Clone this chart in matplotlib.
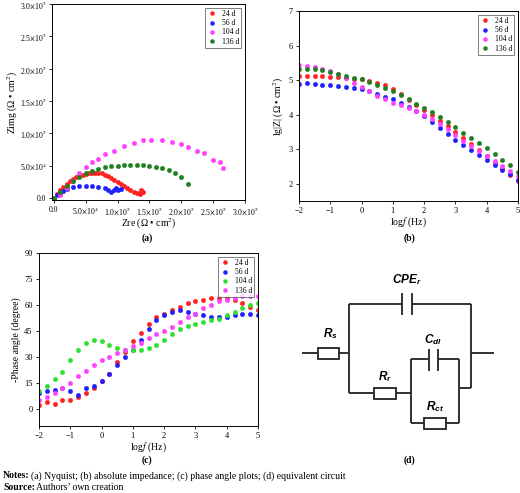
import matplotlib
matplotlib.use("Agg")
import matplotlib.pyplot as plt
import numpy as np

W, H = 520, 493
plt.rcParams['font.family'] = ['Liberation Serif', 'DejaVu Serif']
plt.rcParams['mathtext.fontset'] = 'stix'

labels_ab = ['24 d', '56 d', '104 d', '136 d']
cols_ab = ['#ff2020', '#2020ff', '#ff40ff', '#208020']
labels_c = ['24 d', '56 d', '104 d', '136 d']
cols_c = ['#ff2020', '#2020ff', '#30e030', '#ff40ff']

# Nyquist (units of 1e4 Ohm cm2)
zre_24 = [0,0.5,1,1.5,2,2.5,3,3.5,4,4.5,5,5.5,6,6.5,7,7.5,8,8.5,9,9.5,10,10.5,11,11.5,12,12.5,13,13.5,13.8,13.6,14]
zim_24 = [0,0.6,1.2,1.7,2.2,2.6,2.9,3.2,3.4,3.6,3.75,3.85,3.9,3.9,3.85,3.8,3.6,3.4,3.1,2.8,2.5,2.2,1.9,1.6,1.3,1.0,0.8,0.6,1.0,1.3,0.9]
zre_56 = [0,0.5,1,1.5,2,3,4,5,6,7,8,8.5,9,9.5,9.8,10,10.5]
zim_56 = [0,0.4,0.8,1.1,1.4,1.7,1.85,1.9,1.85,1.7,1.5,1.2,1.0,1.2,1.5,1.3,1.4]
zre_104 = [0,1,2,3,4,5,6,7,8,9.5,11,12.5,14,15.2,17,18.5,20,21,22.5,23.5,25,26,26.5]
zim_104 = [0,0.5,1.5,2.7,3.8,4.8,5.5,6.1,6.8,7.3,8.0,8.5,8.9,9.0,9.0,8.6,8.3,7.9,7.2,7.0,5.9,5.6,4.6]
zre_136 = [0,1,2,3,4,5,6,7,8,9,10,11,12,13,14,15,16,17,18,19,20,21]
zim_136 = [0,1.0,1.9,2.7,3.3,3.8,4.2,4.5,4.75,4.9,5.0,5.05,5.1,5.15,5.1,5.0,4.85,4.6,4.3,3.8,3.2,2.2]

logf = [-2,-1.75,-1.5,-1.25,-1,-0.75,-0.5,-0.25,0,0.25,0.5,0.75,1,1.25,1.5,1.75,2,2.25,2.5,2.75,3,3.25,3.5,3.75,4,4.25,4.5,4.75,5]
lgz_24 = [5.12,5.13,5.12,5.11,5.1,5.08,5.05,5.04,5.03,4.98,4.93,4.85,4.73,4.6,4.43,4.27,4.12,3.98,3.83,3.68,3.5,3.33,3.15,2.98,2.8,2.6,2.43,2.25,2.08]
lgz_56 = [4.88,4.93,4.9,4.86,4.87,4.84,4.8,4.78,4.74,4.68,4.6,4.52,4.45,4.35,4.22,4.1,3.95,3.78,3.6,3.43,3.27,3.12,2.97,2.83,2.7,2.55,2.41,2.27,2.12]
lgz_104 = [5.43,5.4,5.37,5.32,5.26,5.17,5.05,4.93,4.8,4.68,4.55,4.45,4.35,4.27,4.18,4.1,4.0,3.88,3.73,3.57,3.4,3.25,3.1,2.95,2.8,2.65,2.5,2.36,2.22]
lgz_136 = [5.33,5.32,5.31,5.28,5.24,5.19,5.13,5.07,5.02,4.95,4.87,4.78,4.68,4.57,4.45,4.32,4.2,4.07,3.93,3.78,3.63,3.48,3.32,3.17,3.02,2.86,2.7,2.53,2.35]

ph_24 = [2,4,3,5,5,7,9,12,16,20,27,33,39,44,49,53,55,57,59,61,62,63,64,64,64,63,61,59,57]
ph_56 = [9,10,11,12,10,8,12,13,16,20,25,30,34,40,46,51,54,56,57,56,55,54,53,53,53,54,55,55,54]
ph_104 = [10,13,17,21,28,34,38,40,39,37,35,34,34,34,35,37,40,43,46,48,49,50,51,52,54,56,58,60,61]
ph_136 = [5,7,9,12,15,19,22,25,28,30,32,34,36,38,41,43,45,47,50,53,55,58,60,62,63,64,65,65,65]

fig = plt.figure(figsize=(W/100, H/100), dpi=100)

def axpix(l, t, r, b):
    return fig.add_axes([l/W, 1-b/H, (r-l)/W, (b-t)/H])

def style(ax):
    ax.tick_params(labelsize=6, length=2.5, width=0.6, pad=2)
    for s in ax.spines.values():
        s.set_linewidth(0.7)

def sc(ax, x, y, c, lab):
    ax.plot(x, y, 'o', ms=3.2, color=c, mec=c, mew=0.3, label=lab)

def leg(ax):
    l = ax.legend(loc='upper right', fontsize=5.5, frameon=True, fancybox=False,
                  edgecolor='#444', handletextpad=0.6, borderpad=0.3, labelspacing=0.15,
                  markerscale=0.9, handlelength=1.2, borderaxespad=0.5)
    l.get_frame().set_linewidth(0.6)

# (a)
ax = axpix(52, 4, 245, 200)
for x, y, c, lab in zip([zre_24, zre_56, zre_104, zre_136], [zim_24, zim_56, zim_104, zim_136], cols_ab, labels_ab):
    sc(ax, x, y, c, lab)
ax.set_xlim(-0.3, 30); ax.set_ylim(-0.3, 30)
tl = ['0.0', r'5.0$\times$10$^4$', r'1.0$\times$10$^5$', r'1.5$\times$10$^5$', r'2.0$\times$10$^5$', r'2.5$\times$10$^5$', r'3.0$\times$10$^5$']
ax.set_xticks([0, 5, 10, 15, 20, 25, 30]); ax.set_xticklabels(tl)
ax.set_yticks([0, 5, 10, 15, 20, 25, 30]); ax.set_yticklabels(tl)
style(ax)
ax.tick_params(labelsize=5.5, pad=1.5)
ax.set_xlabel(r'Zre (Ω • cm$^2$)', fontsize=7, labelpad=0)
ax.set_ylabel(r'Zimg (Ω • cm$^2$)', fontsize=7, labelpad=0)
leg(ax)
fig.text(147/W, 1-238/H, '(a)', ha='center', va='center', fontsize=7, fontweight='bold')

# (b)
ax = axpix(299, 11, 518, 201)
for y, c, lab in zip([lgz_24, lgz_56, lgz_104, lgz_136], cols_ab, labels_ab):
    sc(ax, logf, y, c, lab)
ax.set_xlim(-2, 5); ax.set_ylim(1.5, 7)
ax.set_yticks([2, 3, 4, 5, 6, 7])
ax.set_xticks([-2, -1, 0, 1, 2, 3, 4, 5])
ax.set_xticklabels(['−2', '−1', '0', '1', '2', '3', '4', '5'])
style(ax)
ax.set_xlabel(r'log$f$ (Hz)', fontsize=7, labelpad=0)
ax.set_ylabel(r'lg|Z| (Ω • cm$^2$)', fontsize=7, labelpad=2)
leg(ax)
fig.text(409/W, 1-238/H, '(b)', ha='center', va='center', fontsize=7, fontweight='bold')

# (c)
ax = axpix(39, 253, 258, 426)
for y, c, lab in zip([ph_24, ph_56, ph_104, ph_136], cols_c, labels_c):
    sc(ax, logf, y, c, lab)
ax.set_xlim(-2, 5); ax.set_ylim(-10, 90)
ax.set_yticks([0, 15, 30, 45, 60, 75, 90])
ax.set_xticks([-2, -1, 0, 1, 2, 3, 4, 5])
ax.set_xticklabels(['−2', '−1', '0', '1', '2', '3', '4', '5'])
style(ax)
ax.set_xlabel(r'log$f$ (Hz)', fontsize=7, labelpad=0)
ax.set_ylabel('-Phase angle (degree)', fontsize=7, labelpad=2)
leg(ax)
fig.text(147/W, 1-460/H, '(c)', ha='center', va='center', fontsize=7, fontweight='bold')

# (d) equivalent circuit
axd = fig.add_axes([0, 0, 1, 1])
axd.set_xlim(0, W); axd.set_ylim(H, 0); axd.axis('off')
def P(zx, zy):
    return 270 + zx/3, 225 + zy/3
def line(pts):
    xs, ys = zip(*[P(*p) for p in pts])
    axd.plot(xs, ys, color='#222', lw=1.3, solid_capstyle='butt')
def box(x0, x1, yc, h=35):
    (a, b), (c, d) = P(x0, yc - h/2), P(x1, yc + h/2)
    axd.add_patch(plt.Rectangle((a, b), c - a, d - b, fill=True, fc='white', ec='#222', lw=1.3, zorder=3))
def cap(x0, x1, yc, h):
    line([(x0, yc - h/2), (x0, yc + h/2)])
    line([(x1, yc - h/2), (x1, yc + h/2)])

line([(95, 385), (237, 385)]); box(145, 208, 385)
line([(237, 237), (237, 505)])
line([(237, 237), (395, 237)]); cap(395, 425, 237, 67); line([(425, 237), (602, 237)])
line([(602, 237), (602, 490)]); line([(602, 385), (672, 385)])
line([(237, 505), (422, 505)]); box(313, 378, 505)
line([(422, 403), (422, 595)])
line([(422, 403), (478, 403)]); cap(478, 505, 405, 64); line([(505, 403), (566, 403)])
line([(566, 403), (566, 595)])
line([(422, 595), (566, 595)]); box(462, 527, 595)
line([(566, 490), (602, 490)])

tkw = dict(ha='center', va='center', fontsize=8.5, family=['Liberation Sans', 'DejaVu Sans'], style='italic', fontweight='bold')
axd.text(*P(410, 165), r'CPE$_\mathregular{r}$', **tkw)
axd.text(*P(490, 345), r'C$_\mathregular{dl}$', **tkw)
axd.text(*P(180, 325), r'R$_\mathregular{s}$', **tkw)
axd.text(*P(345, 455), r'R$_\mathregular{r}$', **tkw)
axd.text(*P(495, 545), r'R$_\mathregular{ct}$', **tkw)
fig.text(409/W, 1-460/H, '(d)', ha='center', va='center', fontsize=7, fontweight='bold')

fig.text(3/W, 1-476/H, 'Notes:', fontsize=7, va='center', fontweight='bold')
fig.text(31/W, 1-476/H, '(a) Nyquist; (b) absolute impedance; (c) phase angle plots; (d) equivalent circuit', fontsize=7, va='center')
fig.text(3/W, 1-487/H, 'Source:', fontsize=7, va='center', fontweight='bold')
fig.text(36/W, 1-487/H, 'Authors’ own creation', fontsize=7, va='center')

fig.savefig('out.png', dpi=100)
